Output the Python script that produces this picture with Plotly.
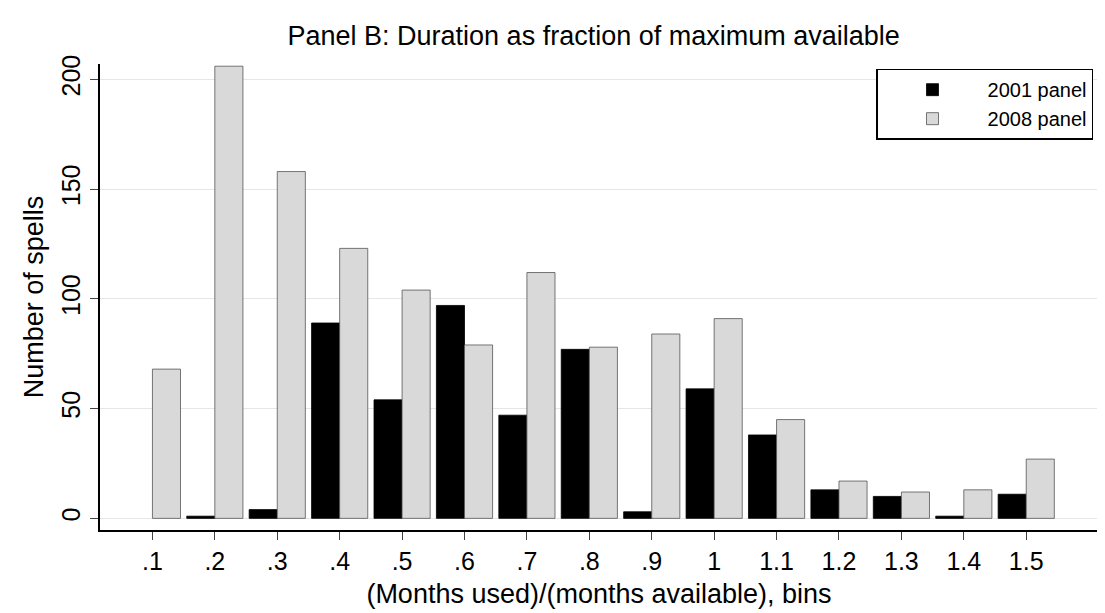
import plotly.graph_objects as go

bins = [".1", ".2", ".3", ".4", ".5", ".6", ".7", ".8", ".9", "1", "1.1", "1.2", "1.3", "1.4", "1.5"]
panel_2001 = [None, 1, 4, 89, 54, 97, 47, 77, 3, 59, 38, 13, 10, 1, 11]
panel_2008 = [68, 206, 158, 123, 104, 79, 112, 78, 84, 91, 45, 17, 12, 13, 27]
y_ticks = [0, 50, 100, 150, 200]

xpos = list(range(len(bins)))

fig = go.Figure()
fig.add_trace(go.Bar(x=xpos, y=panel_2001, name="2001 panel",
                     marker=dict(color="black", line=dict(color="black", width=0.8))))
fig.add_trace(go.Bar(x=xpos, y=panel_2008, name="2008 panel",
                     marker=dict(color="#d9d9d9", line=dict(color="#555555", width=0.8))))

fig.update_layout(
    width=1105, height=613,
    barmode="group", bargap=0.1, bargroupgap=0,
    paper_bgcolor="white", plot_bgcolor="white",
    font=dict(family="Liberation Sans, Arial, sans-serif", size=25, color="black"),
    margin=dict(l=92, r=15, t=56, b=91),
    title=dict(text="Panel B: Duration as fraction of maximum available",
               x=0.53, xanchor="center", y=0.97, yanchor="top", font=dict(size=27)),
    showlegend=True,
    legend=dict(x=0.995, y=0.99, xanchor="right", yanchor="top",
                bordercolor="black", borderwidth=1.5, bgcolor="white",
                font=dict(size=20), itemwidth=100, tracegroupgap=2),
)
fig.update_xaxes(
    range=[-0.84, 15.15], tickmode="array", tickvals=xpos, ticktext=bins,
    showline=True, linecolor="black", linewidth=1.5, ticks="outside", ticklen=8,
    showgrid=False, zeroline=False,
    title=dict(text="(Months used)/(months available), bins", font=dict(size=27), standoff=10),
)
fig.update_yaxes(
    range=[-5.3, 207], tickmode="array", tickvals=y_ticks, tickangle=-90,
    showline=True, linecolor="black", linewidth=1.5, ticks="outside", ticklen=8,
    showgrid=True, gridcolor="#e6e6e6", gridwidth=1.2, zeroline=False,
    title=dict(text="Number of spells", font=dict(size=27), standoff=6),
)

fig.write_html("out.html")
